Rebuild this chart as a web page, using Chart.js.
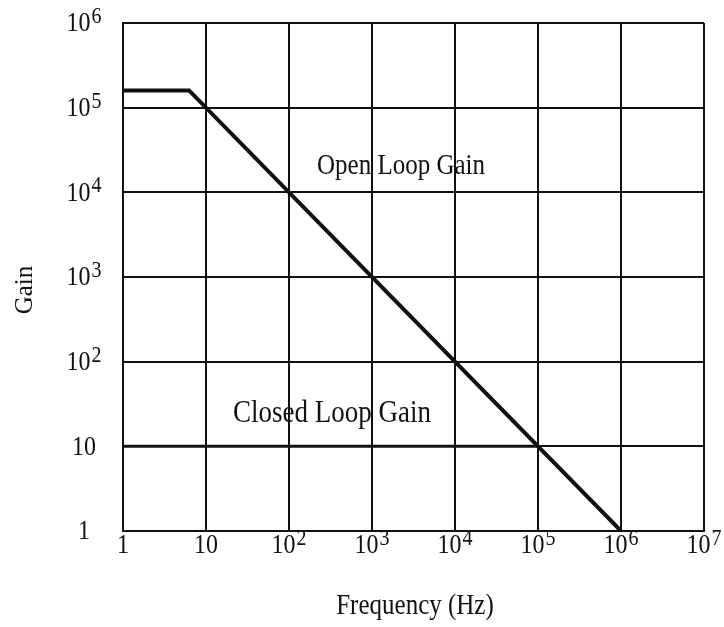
<!DOCTYPE html>
<html>
<head>
<meta charset="utf-8">
<script src="https://cdn.jsdelivr.net/npm/chart.js@4/dist/chart.umd.min.js"></script>
<style>
  html, body { margin: 0; padding: 0; background: #fff; }
  #wrap { width: 724px; height: 627px; position: relative; }
</style>
</head>
<body>
<div id="wrap"><canvas id="gainChart"></canvas></div>
<script>
// tick positions and labels ("base^exp")
const xTickValues = [1, 10, 1e2, 1e3, 1e4, 1e5, 1e6, 1e7];
const xTickLabels = ["1", "10", "10^2", "10^3", "10^4", "10^5", "10^6", "10^7"];
const yTickValues = [1, 10, 1e2, 1e3, 1e4, 1e5, 1e6];
const yTickLabels = ["1", "10", "10^2", "10^3", "10^4", "10^5", "10^6"];

// open loop gain: flat then -20 dB/decade
const openLoopFreq = [1, 6.25, 1e6];
const openLoopGain = [1.6e5, 1.6e5, 1];

// closed loop gain
const closedLoopFreq = [1, 1e5];
const closedLoopGain = [10, 10];

const FONT = "'Liberation Serif', 'DejaVu Serif', serif";
const INK = "#111";
const STRETCH = 1.15; // scanned text looks a bit taller than normal

function toPoints(xs, ys) {
  return xs.map((x, i) => ({ x: x, y: ys[i] }));
}

// text drawn slightly stretched vertically around its centre
function tallText(ctx, text, x, y) {
  ctx.save();
  ctx.translate(x, y);
  ctx.scale(1, STRETCH);
  ctx.fillText(text, 0, 0);
  ctx.restore();
}

function drawPowerLabel(ctx, label, cx, cy) {
  const parts = label.split("^");
  const base = parts[0];
  const exp = parts[1] || "";
  ctx.font = `24px ${FONT}`;
  const bw = ctx.measureText(base).width;
  ctx.font = `20px ${FONT}`;
  const ew = exp ? ctx.measureText(exp).width + 1 : 0;
  const left = cx - (bw + ew) / 2;
  ctx.textAlign = "left";
  ctx.textBaseline = "middle";
  ctx.font = `24px ${FONT}`;
  tallText(ctx, base, left, cy);
  if (exp) {
    ctx.font = `20px ${FONT}`;
    tallText(ctx, exp, left + bw + 1, cy - 7);
  }
}

const labelPlugin = {
  id: "labelPlugin",
  afterDraw(chart) {
    const ctx = chart.ctx;
    const xs = chart.scales.x;
    const ys = chart.scales.y;
    ctx.save();
    ctx.fillStyle = INK;

    xTickValues.forEach((v, i) => {
      drawPowerLabel(ctx, xTickLabels[i], xs.getPixelForValue(v), 546);
    });
    yTickValues.forEach((v, i) => {
      drawPowerLabel(ctx, yTickLabels[i], 84, ys.getPixelForValue(v) + 1);
    });

    ctx.textAlign = "center";
    ctx.textBaseline = "middle";
    ctx.font = `25px ${FONT}`;
    tallText(ctx, "Frequency (Hz)", 415, 606);
    tallText(ctx, "Open Loop Gain", 401, 166);
    ctx.font = `27px ${FONT}`;
    tallText(ctx, "Closed Loop Gain", 332, 414);

    ctx.font = `25px ${FONT}`;
    ctx.translate(25, 290);
    ctx.rotate(-Math.PI / 2);
    ctx.fillText("Gain", 0, 0);
    ctx.restore();
  }
};

function setDecadeTicks(values) {
  return function(scale) {
    scale.ticks = values.map((v) => ({ value: v }));
  };
}

new Chart(document.getElementById("gainChart"), {
  type: "line",
  data: {
    datasets: [
      {
        label: "Open Loop Gain",
        data: toPoints(openLoopFreq, openLoopGain),
        borderColor: INK,
        borderWidth: 4,
        pointRadius: 0,
        tension: 0,
        fill: false
      },
      {
        label: "Closed Loop Gain",
        data: toPoints(closedLoopFreq, closedLoopGain),
        borderColor: INK,
        borderWidth: 3,
        pointRadius: 0,
        tension: 0,
        fill: false
      }
    ]
  },
  options: {
    responsive: true,
    maintainAspectRatio: false,
    animation: false,
    layout: { padding: { left: 123, top: 23, right: 20, bottom: 96 } },
    plugins: {
      legend: { display: false },
      tooltip: { enabled: false }
    },
    scales: {
      x: {
        type: "logarithmic",
        min: 1,
        max: 1e7,
        afterBuildTicks: setDecadeTicks(xTickValues),
        ticks: { display: false },
        grid: { color: INK, lineWidth: 2, drawTicks: false },
        border: { color: INK, width: 2 }
      },
      y: {
        type: "logarithmic",
        min: 1,
        max: 1e6,
        afterBuildTicks: setDecadeTicks(yTickValues),
        ticks: { display: false },
        grid: { color: INK, lineWidth: 2, drawTicks: false },
        border: { color: INK, width: 2 }
      }
    }
  },
  plugins: [labelPlugin]
});
</script>
</body>
</html>
